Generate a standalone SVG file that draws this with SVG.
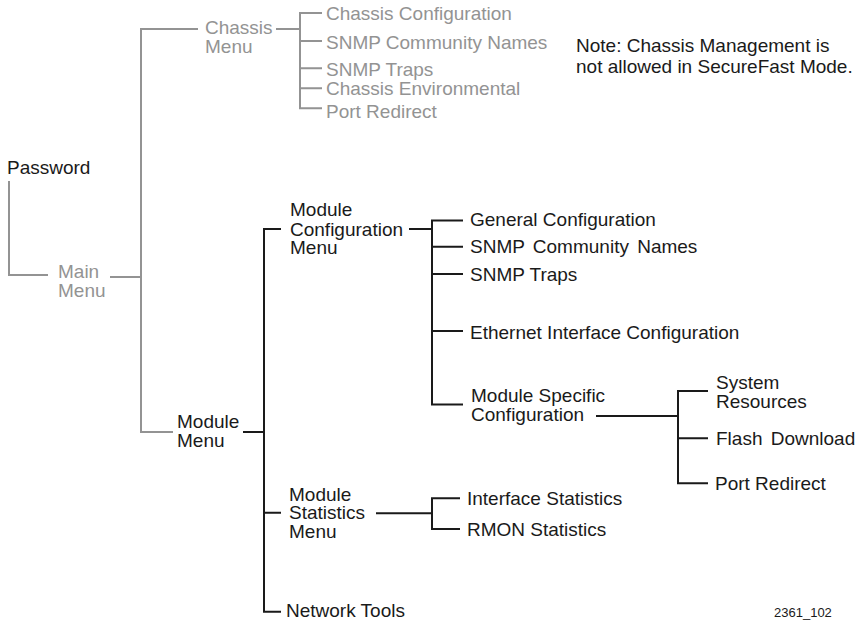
<svg xmlns="http://www.w3.org/2000/svg" width="865" height="621" viewBox="0 0 865 621">
<style>
text{font-family:"Liberation Sans",Arial,Helvetica,sans-serif;font-size:19px;fill:#1a1a1a}
.g{fill:#939393}
.ws{word-spacing:3px}
.small{font-size:13px}
.lk{stroke:#1a1a1a;stroke-width:2;fill:none}
.lg{stroke:#939393;stroke-width:2;fill:none}
</style>
<rect width="865" height="621" fill="#fff"/>
<g id="connectors">
<path class="lg" d="M9 181V275H48"/>
<path class="lg" d="M110 277H141"/>
<path class="lg" d="M198 29H141V432H173"/>
<path class="lg" d="M276 29H300"/>
<path class="lg" d="M322 13H300V108.3H322M300 41H322M300 68.3H322M300 88.3H322"/>
<path class="lk" d="M243 432H264"/>
<path class="lk" d="M281 229H264V611.7H281M264 512.7H281"/>
<path class="lk" d="M409 229H432"/>
<path class="lk" d="M463 220.5H432V404.5H463M432 246.7H463M432 274H463M432 331H463"/>
<path class="lk" d="M596 416H678"/>
<path class="lk" d="M708 391H678V483.3H708M678 438.3H708"/>
<path class="lk" d="M376 513.3H432"/>
<path class="lk" d="M460 498.3H432V529H460"/>
</g>
<g id="password"><text x="7" y="174">Password</text></g>
<g id="main-menu"><text class="g" x="58" y="278">Main</text><text class="g" x="58" y="297">Menu</text></g>
<g id="chassis-menu"><text class="g" x="205" y="34.3">Chassis</text><text class="g" x="205" y="53.3">Menu</text></g>
<g id="chassis-configuration"><text class="g" x="326" y="20.3">Chassis Configuration</text></g>
<g id="chassis-snmp-community"><text class="g" x="326" y="48.8">SNMP Community Names</text></g>
<g id="chassis-snmp-traps"><text class="g" x="326" y="75.5">SNMP Traps</text></g>
<g id="chassis-environmental"><text class="g" x="326" y="94.7">Chassis Environmental</text></g>
<g id="chassis-port-redirect"><text class="g" x="326" y="118.3">Port Redirect</text></g>
<g id="note"><text x="576" y="52.3">Note: Chassis Management is</text><text x="576" y="72.7">not allowed in SecureFast Mode.</text></g>
<g id="module-menu"><text x="177" y="428">Module</text><text x="177" y="447">Menu</text></g>
<g id="module-configuration-menu"><text x="290" y="216">Module</text><text x="290" y="235.5">Configuration</text><text x="290" y="254">Menu</text></g>
<g id="general-configuration"><text x="470" y="225.7">General Configuration</text></g>
<g id="snmp-community-names"><text class="ws" x="470" y="252.7">SNMP Community Names</text></g>
<g id="snmp-traps"><text x="470" y="280.5">SNMP Traps</text></g>
<g id="ethernet-interface-configuration"><text x="470" y="339">Ethernet Interface Configuration</text></g>
<g id="module-specific-configuration"><text x="471" y="401.7">Module Specific</text><text x="471" y="420.7">Configuration</text></g>
<g id="system-resources"><text x="716" y="389">System</text><text x="716" y="408.3">Resources</text></g>
<g id="flash-download"><text class="ws" x="716" y="445">Flash Download</text></g>
<g id="port-redirect"><text x="715" y="490">Port Redirect</text></g>
<g id="module-statistics-menu"><text x="289" y="500.7">Module</text><text x="289" y="519.3">Statistics</text><text x="289" y="538.3">Menu</text></g>
<g id="interface-statistics"><text x="467" y="504.5">Interface Statistics</text></g>
<g id="rmon-statistics"><text x="467" y="535.5">RMON Statistics</text></g>
<g id="network-tools"><text x="286" y="617.3">Network Tools</text></g>
<g id="figure-id"><text class="small" x="774" y="617">2361_102</text></g>
</svg>
